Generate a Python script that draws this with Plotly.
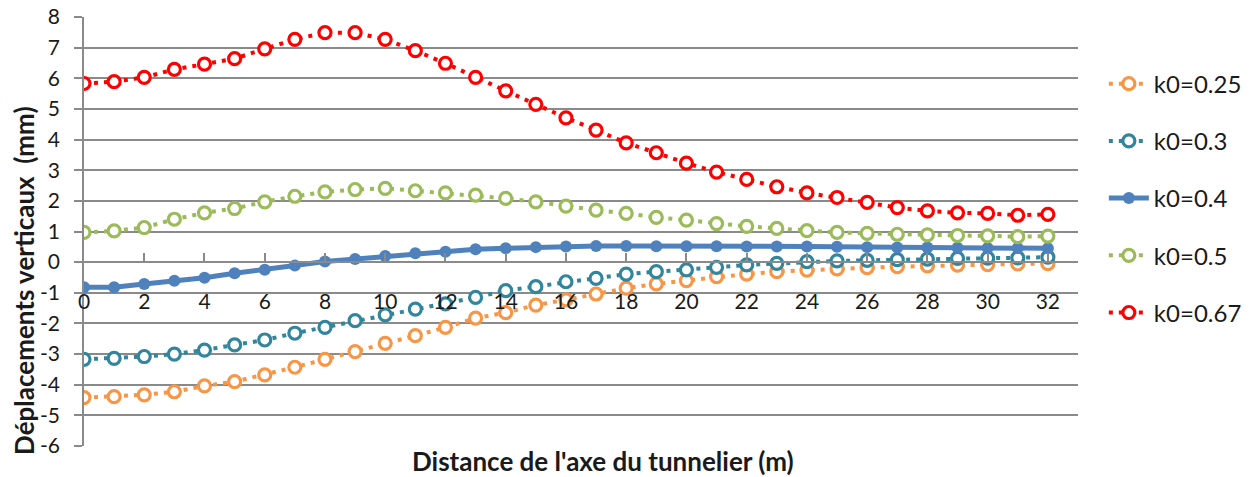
import plotly.graph_objects as go

x_vals = list(range(0, 33))

k025 = [-4.42, -4.39, -4.33, -4.23, -4.04, -3.90, -3.68, -3.43, -3.17, -2.92, -2.65,
        -2.40, -2.13, -1.83, -1.65, -1.40, -1.23, -1.04, -0.85, -0.71, -0.60, -0.47,
        -0.39, -0.31, -0.26, -0.22, -0.18, -0.15, -0.12, -0.10, -0.08, -0.06, -0.05]
k030 = [-3.17, -3.14, -3.08, -3.00, -2.87, -2.70, -2.54, -2.32, -2.13, -1.91, -1.72,
        -1.53, -1.36, -1.15, -0.93, -0.80, -0.64, -0.53, -0.39, -0.31, -0.25, -0.17,
        -0.09, -0.04, 0.02, 0.04, 0.06, 0.08, 0.10, 0.12, 0.13, 0.14, 0.16]
k040 = [-0.82, -0.82, -0.71, -0.61, -0.51, -0.36, -0.25, -0.11, 0.02, 0.10, 0.20,
        0.29, 0.34, 0.42, 0.45, 0.49, 0.51, 0.53, 0.53, 0.52, 0.52, 0.52,
        0.51, 0.51, 0.51, 0.50, 0.49, 0.48, 0.48, 0.47, 0.46, 0.46, 0.45]
k050 = [0.97, 1.02, 1.13, 1.40, 1.61, 1.75, 1.97, 2.15, 2.29, 2.37, 2.41,
        2.33, 2.26, 2.19, 2.08, 1.97, 1.83, 1.70, 1.59, 1.46, 1.37, 1.26,
        1.17, 1.10, 1.03, 0.97, 0.94, 0.91, 0.89, 0.87, 0.86, 0.83, 0.85]
k067 = [5.83, 5.89, 6.03, 6.29, 6.46, 6.64, 6.96, 7.27, 7.49, 7.49, 7.27,
        6.90, 6.49, 6.03, 5.59, 5.15, 4.71, 4.31, 3.89, 3.57, 3.23, 2.94,
        2.70, 2.46, 2.26, 2.11, 1.95, 1.78, 1.67, 1.61, 1.59, 1.53, 1.56]

series_names = ["k0=0.25", "k0=0.3", "k0=0.4", "k0=0.5", "k0=0.67"]
series_values = [k025, k030, k040, k050, k067]
series_colors = ["#F79646", "#31859C", "#4F81BD", "#9BBB59", "#FF0000"]

x_ticks = list(range(0, 33, 2))
y_ticks = list(range(-6, 9))

fig = go.Figure()
for name, vals, col in zip(series_names, series_values, series_colors):
    if name == "k0=0.4":
        fig.add_trace(go.Scatter(
            x=x_vals, y=vals, name=name, mode="lines+markers", legendgroup=name,
            line=dict(color=col, width=5),
            marker=dict(symbol="circle", size=12, color=col),
        ))
    else:
        fig.add_trace(go.Scatter(
            x=x_vals, y=vals, name=name, mode="lines+markers", legendgroup=name,
            line=dict(color=col, width=4, dash="4px,6px"),
            marker=dict(symbol="circle", size=12, color="white",
                        line=dict(color=col, width=3.2)),
        ))

grid_col = "#8A8A8A"
font_family = "Lato, Open Sans, sans-serif"
text_col = "#1a1a1a"

fig.update_layout(
    width=1254, height=477,
    margin=dict(l=76, r=184, t=9, b=39),
    paper_bgcolor="white", plot_bgcolor="white",
    font=dict(family=font_family, color=text_col),
    showlegend=True,
    legend=dict(
        x=1.026, xanchor="left", y=0.896, yanchor="top",
        font=dict(size=24, family=font_family, color=text_col),
        tracegroupgap=23, bgcolor="rgba(0,0,0,0)",
        itemwidth=40,
    ),
    xaxis=dict(
        range=[0, 33], tickmode="array", tickvals=x_ticks,
        ticktext=[str(v) for v in x_ticks],
        showgrid=False, zeroline=False,
        showline=True, linecolor=grid_col, linewidth=1.6,
        ticks="inside", ticklen=8, tickcolor=grid_col, tickwidth=1.6,
        anchor="free", position=6 / 14,
        tickfont=dict(size=21, family=font_family, color=text_col),
        ticklabelstandoff=21, automargin=False, ticklabeloverflow="allow",
    ),
    yaxis=dict(
        range=[-6, 8], tickmode="array", tickvals=y_ticks,
        ticktext=[str(v) for v in y_ticks],
        showgrid=True, gridcolor=grid_col, gridwidth=1.6,
        zeroline=False,
        showline=True, linecolor=grid_col, linewidth=1.6,
        ticks="outside", ticklen=8, tickcolor=grid_col, tickwidth=1.6,
        tickfont=dict(size=21, family=font_family, color=text_col),
        ticklabelstandoff=10, automargin=False, ticklabeloverflow="allow",
    ),
    annotations=[
        dict(text="<b>Distance de l'axe du tunnelier (m)</b>", xref="paper", yref="paper",
             x=0.522, y=-0.035, xanchor="center", yanchor="middle", showarrow=False,
             font=dict(size=26, family=font_family, color=text_col)),
        dict(text="<b>Déplacements verticaux  (mm)</b>", xref="paper", yref="paper",
             x=-0.0604, y=0.387, xanchor="center", yanchor="middle", showarrow=False,
             textangle=-90,
             font=dict(size=26, family=font_family, color=text_col)),
    ],
)

fig.write_html("out.html")
